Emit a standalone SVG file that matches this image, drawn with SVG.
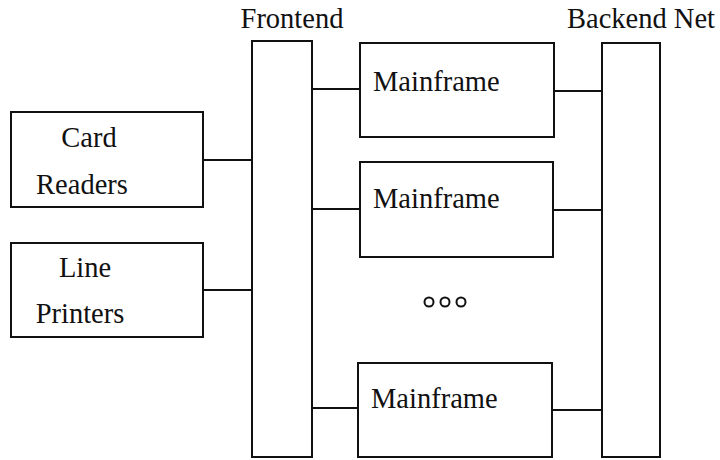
<svg xmlns="http://www.w3.org/2000/svg" width="720" height="460" viewBox="0 0 720 460">
  <style>
    .box { fill: #fff; stroke: #111; stroke-width: 2; }
    .wire { stroke: #111; stroke-width: 2; fill: none; }
    .lbl { font-family: "Liberation Serif", "Times New Roman", serif; font-size: 28.5px; fill: #111; }
    .mid { text-anchor: middle; }
    .dot { fill: none; stroke: #111; stroke-width: 2; }
  </style>
  <rect width="720" height="460" fill="#fff"/>

  <!-- connectors -->
  <g id="connectors">
    <line class="wire" x1="204" y1="160" x2="252" y2="160"/>
    <line class="wire" x1="204" y1="290" x2="252" y2="290"/>
    <line class="wire" x1="312" y1="89" x2="360" y2="89"/>
    <line class="wire" x1="312" y1="209" x2="360" y2="209"/>
    <line class="wire" x1="312" y1="408" x2="358" y2="408"/>
    <line class="wire" x1="554" y1="91" x2="602" y2="91"/>
    <line class="wire" x1="553" y1="210" x2="602" y2="210"/>
    <line class="wire" x1="552" y1="410" x2="602" y2="410"/>
  </g>

  <g id="card-readers">
    <rect class="box" x="11" y="112" width="192" height="95"/>
    <text class="lbl mid" x="89" y="147">Card</text>
    <text class="lbl mid" x="82" y="194">Readers</text>
  </g>

  <g id="line-printers">
    <rect class="box" x="11" y="243" width="192" height="94"/>
    <text class="lbl mid" x="85" y="277">Line</text>
    <text class="lbl mid" x="80" y="323">Printers</text>
  </g>

  <g id="frontend">
    <rect class="box" x="252" y="41" width="60" height="416"/>
    <text class="lbl mid" x="292" y="28">Frontend</text>
  </g>

  <g id="mainframe-1">
    <rect class="box" x="360" y="43" width="194" height="94"/>
    <text class="lbl" x="373" y="91">Mainframe</text>
  </g>

  <g id="mainframe-2">
    <rect class="box" x="360" y="162" width="193" height="95"/>
    <text class="lbl" x="373" y="208">Mainframe</text>
  </g>

  <g id="ellipsis">
    <circle class="dot" cx="429" cy="302" r="4.5"/>
    <circle class="dot" cx="445" cy="302" r="4.5"/>
    <circle class="dot" cx="461" cy="302" r="4.5"/>
  </g>

  <g id="mainframe-3">
    <rect class="box" x="358" y="363" width="194" height="94"/>
    <text class="lbl" x="371" y="408">Mainframe</text>
  </g>

  <g id="backend-net">
    <rect class="box" x="602" y="43" width="58" height="414"/>
    <text class="lbl mid" x="641" y="28">Backend Net</text>
  </g>
</svg>
